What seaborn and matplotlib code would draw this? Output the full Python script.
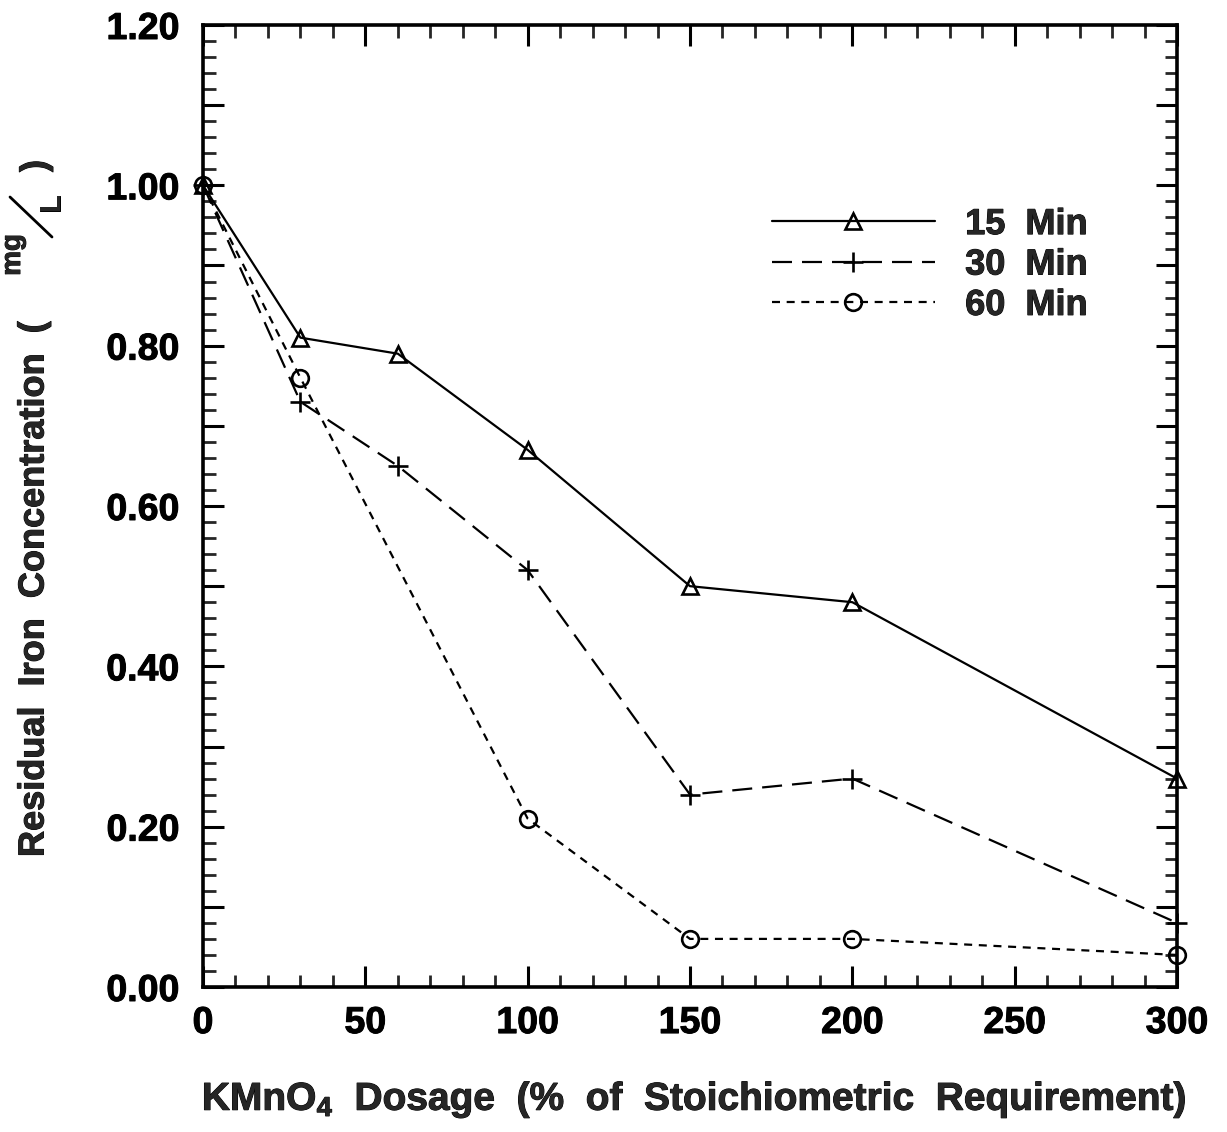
import matplotlib
matplotlib.use("Agg")
import matplotlib.pyplot as plt
import seaborn as sns
from matplotlib.ticker import MultipleLocator, FuncFormatter
from matplotlib.lines import Line2D
import matplotlib.patheffects as pe

# KMnO4 dosage (% of stoichiometric requirement) vs residual iron (mg/L)
dose_15 = [0, 30, 60, 100, 150, 200, 300]
iron_15 = [1.00, 0.81, 0.79, 0.67, 0.50, 0.48, 0.26]

dose_30 = [0, 30, 60, 100, 150, 200, 300]
iron_30 = [1.00, 0.73, 0.65, 0.52, 0.24, 0.26, 0.08]

dose_60 = [0, 30, 100, 150, 200, 300]
iron_60 = [1.00, 0.76, 0.21, 0.06, 0.06, 0.04]

series_labels = ["15  Min", "30  Min", "60  Min"]
x_ticks = [0, 50, 100, 150, 200, 250, 300]

sns.set_theme(style="ticks")
family = "Liberation Sans"
plt.rcParams["font.family"] = [family, "DejaVu Sans"]
plt.rcParams["font.weight"] = "bold"
plt.rcParams["mathtext.fontset"] = "custom"
plt.rcParams["mathtext.rm"] = f"{family}:bold"
plt.rcParams["mathtext.bf"] = f"{family}:bold"
plt.rcParams["mathtext.it"] = f"{family}:bold"

W, H = 1227, 1132
heavy = [pe.withStroke(linewidth=0.7, foreground="black")]


def fx(px):
    return px / W


def fy(py):
    return 1 - py / H


fig = plt.figure(figsize=(W / 100, H / 100), dpi=100)
ax = fig.add_axes([fx(203), fy(987), (1177 - 203) / W, (987 - 25) / H])

styles = [
    dict(marker="^", ms=12, dashes=None),
    dict(marker="+", ms=15, dashes=(9, 4.5)),
    dict(marker="o", ms=12, dashes=(3.6, 3.0)),
]
data = [(dose_15, iron_15), (dose_30, iron_30), (dose_60, iron_60)]

handles = []
for (xs, ys), lab, st in zip(data, series_labels, styles):
    sns.lineplot(x=xs, y=ys, ax=ax, color="black", lw=1.6,
                 marker=st["marker"], markersize=st["ms"],
                 markerfacecolor="none", markeredgecolor="black",
                 markeredgewidth=1.9, label=lab, clip_on=False, zorder=5)
    line = ax.lines[-1]
    if st["dashes"] is not None:
        line.set_dashes(st["dashes"])
    handles.append(line)

ax.set_xlim(0, 300)
ax.set_ylim(0, 1.2)
ax.set_xticks(x_ticks)
ax.xaxis.set_minor_locator(MultipleLocator(10))
ax.yaxis.set_major_locator(MultipleLocator(0.1))
ax.yaxis.set_minor_locator(MultipleLocator(0.02))
ax.yaxis.set_major_formatter(
    FuncFormatter(lambda v, p: f"{v:.2f}" if round(v * 10) % 2 == 0 else ""))

for s in ax.spines.values():
    s.set_linewidth(2.6)
    s.set_color("black")

ax.tick_params(which="major", direction="in", length=15, width=2.2,
               top=True, right=True, labelsize=27, colors="black")
ax.tick_params(axis="x", which="major", pad=13)
ax.tick_params(axis="y", which="major", pad=17)
ax.tick_params(which="minor", direction="in", length=9, width=2.0,
               top=True, right=True)
for lbl in ax.get_xticklabels() + ax.get_yticklabels():
    lbl.set_fontweight("bold")
    lbl.set_path_effects(heavy)

ax.set_xlabel("")
ax.set_ylabel("")

# x-axis title
fig.text(fx(694), fy(1110),
         r"KMnO$_{\mathbf{4}}$  Dosage  (%  of  Stoichiometric  Requirement)",
         ha="center", va="baseline", fontsize=28, fontweight="bold",
         path_effects=heavy)

# y-axis title with stacked mg / L unit
fig.text(fx(34), fy(857), "Residual  Iron  Concentration  (",
         rotation=90, rotation_mode="anchor", ha="left", va="center",
         fontsize=26, fontweight="bold", path_effects=heavy)
fig.text(fx(13), fy(255), "mg", rotation=90, rotation_mode="anchor",
         ha="center", va="center", fontsize=20, fontweight="bold",
         path_effects=heavy)
fig.add_artist(Line2D([fx(10), fx(52)], [fy(197), fy(237)],
                      transform=fig.transFigure, color="black", lw=2.0))
fig.text(fx(52), fy(204), "L", rotation=90, rotation_mode="anchor",
         ha="center", va="center", fontsize=21, fontweight="bold",
         path_effects=heavy)
fig.text(fx(36), fy(166), ")", rotation=90, rotation_mode="anchor",
         ha="center", va="center", fontsize=26, fontweight="bold",
         path_effects=heavy)

leg = ax.legend(handles=handles, labels=series_labels, loc="center left",
                bbox_to_anchor=(fx(772), fy(265)), bbox_transform=fig.transFigure,
                frameon=False, borderpad=0, borderaxespad=0,
                handlelength=4.5, handletextpad=0.85, labelspacing=0.15,
                prop={"weight": "bold", "size": 26, "family": [family]})
for t in leg.get_texts():
    t.set_path_effects(heavy)

fig.savefig("out.png", dpi=100, facecolor="white")
